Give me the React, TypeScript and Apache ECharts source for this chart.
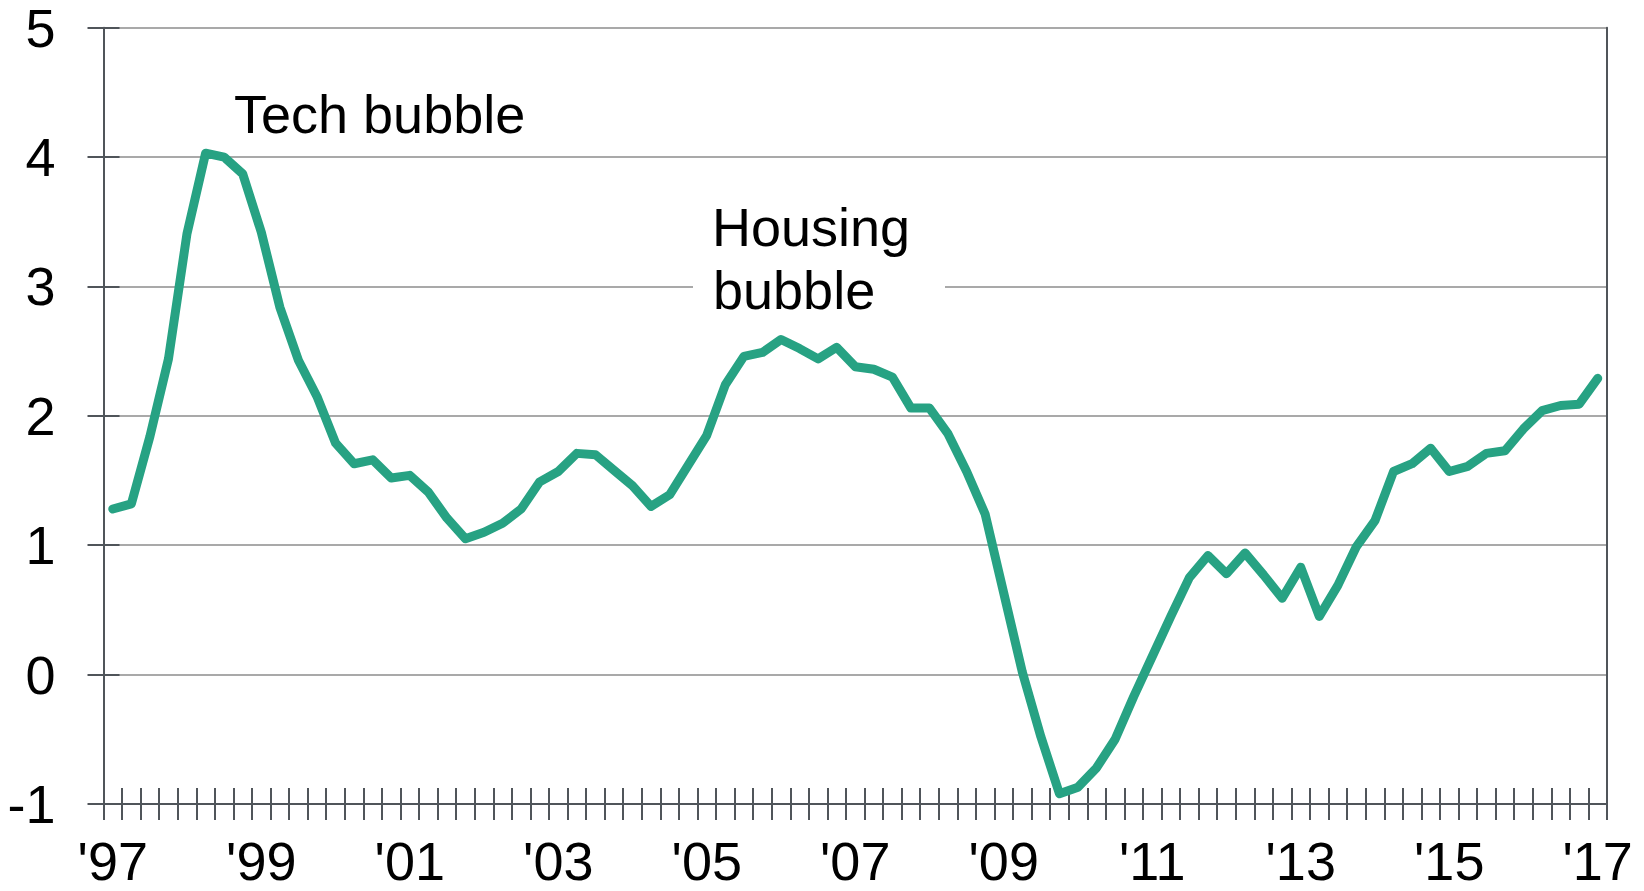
import React, { useEffect, useRef } from "react";
import * as echarts from "echarts";

const yearLabels = ["97","98","99","00","01","02","03","04","05","06","07","08","09","10","11","12","13","14","15","16","17"];
const quarterNames = ["Q1", "Q2", "Q3", "Q4"];

const values = [
  1.28, 1.32, 1.84, 2.44, 3.41, 4.03, 4.0, 3.87, 3.42, 2.84,
  2.43, 2.15, 1.79, 1.63, 1.66, 1.52, 1.54, 1.41, 1.21, 1.05,
  1.1, 1.17, 1.28, 1.49, 1.57, 1.71, 1.7, 1.58, 1.46, 1.3,
  1.39, 1.62, 1.85, 2.24, 2.46, 2.49, 2.59, 2.52, 2.44, 2.53,
  2.38, 2.36, 2.3, 2.06, 2.06, 1.86, 1.57, 1.24, 0.63, 0.02,
  -0.48, -0.92, -0.87, -0.72, -0.5, -0.17, 0.14, 0.45, 0.75, 0.92,
  0.78, 0.94, 0.77, 0.59, 0.83, 0.45, 0.69, 0.99, 1.19, 1.57,
  1.63, 1.75, 1.57, 1.61, 1.71, 1.73, 1.9, 2.04, 2.08, 2.09,
  2.29,
];

const categories: string[] = [];
yearLabels.forEach((y) => {
  quarterNames.forEach((q) => {
    if (categories.length < values.length) categories.push(y + " " + q);
  });
});

const yMin = -1;
const yMax = 5;
const yInterval = 1;

const annotations = ["Tech bubble", "Housing", "bubble"];

const FONT = '"Liberation Sans", Arial, sans-serif';
const AXIS_COLOR = "#50555a";
const GRID_COLOR = "#8c8c8c";
const LINE_COLOR = "#27a283";
const FS = 54;

export default function App() {
  const ref = useRef<HTMLDivElement>(null);
  useEffect(() => {
    if (!ref.current) return;
    const chart = echarts.init(ref.current, null, { renderer: "svg" });
    const baseX = {
      type: "category" as const,
      data: categories,
      boundaryGap: true,
      position: "bottom" as const,
    };
    const baseY = {
      type: "value" as const,
      min: yMin,
      max: yMax,
      interval: yInterval,
    };
    chart.setOption({
      animation: false,
      backgroundColor: "#ffffff",
      grid: { left: 103.5, right: 37, top: 27.7, bottom: 87, containLabel: false },
      xAxis: [
        {
          ...baseX,
          axisLine: { show: true, onZero: false, lineStyle: { color: AXIS_COLOR, width: 2 } },
          axisTick: { show: true, interval: 0, inside: false, length: 16, lineStyle: { color: AXIS_COLOR, width: 2 } },
          axisLabel: {
            interval: 7,
            margin: 30,
            fontSize: FS,
            fontFamily: FONT,
            color: "#000",
            formatter: (v: string) => "'" + v.split(" ")[0],
          },
          splitLine: { show: false },
        },
        {
          ...baseX,
          axisLine: { show: false, onZero: false },
          axisTick: { show: true, interval: 0, inside: true, length: 16, lineStyle: { color: AXIS_COLOR, width: 2 } },
          axisLabel: { show: false },
          splitLine: { show: false },
        },
      ],
      yAxis: [
        {
          ...baseY,
          position: "left",
          axisLine: { show: true, onZero: false, lineStyle: { color: AXIS_COLOR, width: 2 } },
          axisTick: { show: true, inside: false, length: 16, lineStyle: { color: AXIS_COLOR, width: 2 } },
          axisLabel: { margin: 48, fontSize: FS, lineHeight: 44, fontFamily: FONT, color: "#000" },
          splitLine: { show: true, lineStyle: { color: GRID_COLOR, width: 1.5 } },
        },
        {
          ...baseY,
          position: "left",
          axisLine: { show: false, onZero: false },
          axisTick: { show: true, inside: true, length: 16, lineStyle: { color: AXIS_COLOR, width: 2 } },
          axisLabel: { show: false },
          splitLine: { show: false },
        },
        {
          ...baseY,
          position: "right",
          axisLine: { show: true, onZero: false, lineStyle: { color: AXIS_COLOR, width: 2 } },
          axisTick: { show: false },
          axisLabel: { show: false },
          splitLine: { show: false },
        },
      ],
      series: [
        {
          type: "line",
          data: values,
          xAxisIndex: 0,
          yAxisIndex: 0,
          showSymbol: false,
          symbol: "none",
          lineStyle: { color: LINE_COLOR, width: 9, cap: "round", join: "round" },
          z: 10,
        },
      ],
      graphic: [
        {
          type: "rect",
          z: 50,
          shape: { x: 693, y: 186, width: 252, height: 128 },
          style: { fill: "#ffffff" },
        },
        {
          type: "text",
          z: 51,
          x: 234,
          y: 114,
          style: { text: annotations[0], fontSize: FS, fontFamily: FONT, fill: "#000", textVerticalAlign: "middle" },
        },
        {
          type: "text",
          z: 51,
          x: 712,
          y: 227,
          style: { text: annotations[1], fontSize: FS, fontFamily: FONT, fill: "#000", textVerticalAlign: "middle" },
        },
        {
          type: "text",
          z: 51,
          x: 713,
          y: 290,
          style: { text: annotations[2], fontSize: FS, fontFamily: FONT, fill: "#000", textVerticalAlign: "middle" },
        },
      ],
    });
    return () => chart.dispose();
  }, []);
  return (
    <div
      ref={ref}
      style={{ position: "fixed", left: 0, top: 0, width: 1644, height: 891, background: "#fff" }}
    />
  );
}
